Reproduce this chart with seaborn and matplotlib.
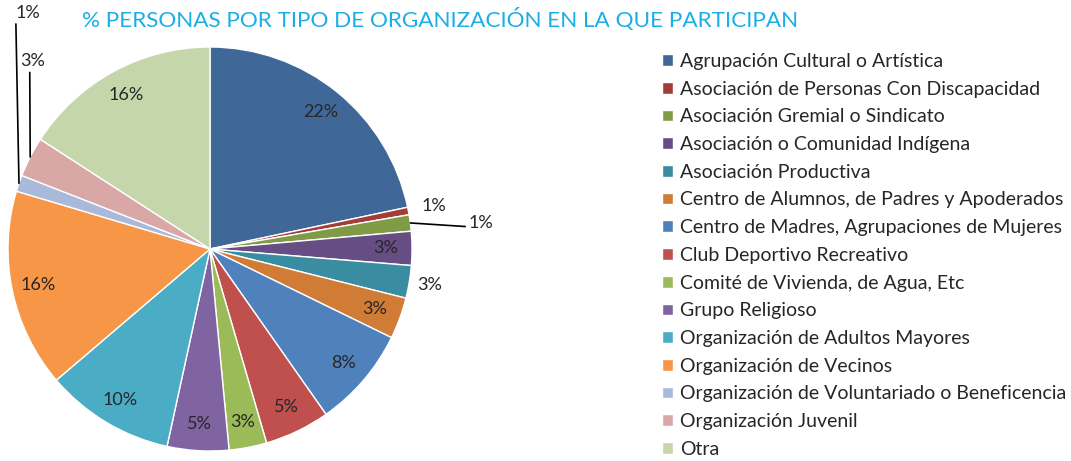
import matplotlib.pyplot as plt
import seaborn as sns
import numpy as np

# Datos (porcentaje de personas por tipo de organización)
categorias = [
    'Agrupación Cultural o Artística',
    'Asociación de Personas Con Discapacidad',
    'Asociación Gremial o Sindicato',
    'Asociación o Comunidad Indígena',
    'Asociación Productiva',
    'Centro de Alumnos, de Padres y Apoderados',
    'Centro de Madres, Agrupaciones de Mujeres',
    'Club Deportivo Recreativo',
    'Comité de Vivienda, de Agua, Etc',
    'Grupo Religioso',
    'Organización de Adultos Mayores',
    'Organización de Vecinos',
    'Organización de Voluntariado o Beneficencia',
    'Organización Juvenil',
    'Otra',
]
porcentajes = [21.6, 0.6, 1.3, 2.7, 2.6, 3.3, 8.0, 5.2, 3.0, 4.9, 10.3, 15.8, 1.3, 3.2, 15.8]

colores = ['#3F6898', '#A43D3A', '#7F9B45', '#664E84', '#3A8CA1', '#D07B36',
           '#4F81BD', '#C0504D', '#9BBB59', '#8064A2', '#4BACC6', '#F79646',
           '#A9B9D9', '#D9A7A6', '#C6D6AB']

sns.set_theme(style="white")
plt.rcParams['font.family'] = ['Lato', 'DejaVu Sans']

fig = plt.figure(figsize=(10.71, 4.61), dpi=100)
# el pie ocupa un cuadrado de 404 px centrado en (210, 249)
ax = fig.add_axes([8 / 1071, (461 - 249 - 202) / 461, 404 / 1071, 404 / 461])

wedges, _ = ax.pie(porcentajes, colors=colores, startangle=90, counterclock=False,
                   wedgeprops=dict(edgecolor='white', linewidth=1.0))
ax.set_xlim(-1, 1)
ax.set_ylim(-1, 1)
ax.axis('off')

total = sum(porcentajes)
etiquetas = ['%d%%' % round(v / total * 100) for v in porcentajes]

# etiquetas fuera del pie (índice -> radio), algunas con línea guía
fuera = {1: 1.13, 4: 1.10}
con_linea = {2: ((1.28, 0.13), (0.0, 0.25)),
             12: ((-0.90, 1.17), (0.0, 0.0)),
             13: ((-0.88, 0.93), (0.4, 0.0))}

for i, w in enumerate(wedges):
    ang = np.deg2rad((w.theta1 + w.theta2) / 2)
    x, y = np.cos(ang), np.sin(ang)
    if i in con_linea:
        xytext, relpos = con_linea[i]
        ax.annotate(etiquetas[i], xy=(x, y), xytext=xytext,
                    ha='left' if i == 2 else 'center', va='center', fontsize=13,
                    arrowprops=dict(arrowstyle='-', color='black', lw=1.2,
                                    relpos=relpos, shrinkA=0, shrinkB=0))
    elif i in fuera:
        r = fuera[i]
        ax.text(r * x, r * y, etiquetas[i], ha='center', va='center', fontsize=13)
    else:
        ax.text(0.87 * x, 0.87 * y, etiquetas[i], ha='center', va='center', fontsize=13)

fig.text(440 / 1071, 1 - 20 / 461, '% PERSONAS POR TIPO DE ORGANIZACIÓN EN LA QUE PARTICIPAN',
         ha='center', va='center', fontsize=16.2, color='#1BAEE6')

fig.legend(wedges, categorias, loc='upper left', bbox_to_anchor=(662 / 1071, 1 - 53 / 461),
           frameon=False, fontsize=14, handlelength=0.55, handleheight=0.55,
           handletextpad=0.4, labelspacing=0.55, borderaxespad=0, borderpad=0)

plt.savefig('out.png', dpi=100)
